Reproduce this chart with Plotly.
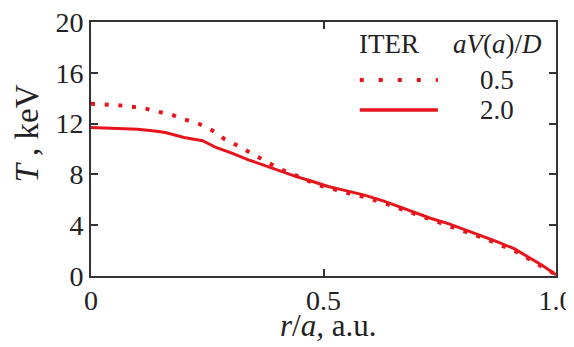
import plotly.graph_objects as go

# r/a values and temperatures (keV)
r_dot = [0, 0.026, 0.057, 0.087, 0.115, 0.144, 0.171, 0.2, 0.23, 0.259, 0.287, 0.316,
         0.346, 0.374, 0.403, 0.432, 0.46, 0.49, 0.55, 0.59, 0.63, 0.66, 0.7, 0.73, 0.77,
         0.8, 0.84, 0.87, 0.91, 0.94, 0.97, 1.0]
T_dot = [13.56, 13.54, 13.46, 13.33, 13.2, 12.94, 12.73, 12.34, 12.02, 11.5, 10.79, 10.25,
         9.66, 9.06, 8.48, 8.05, 7.6, 7.15, 6.55, 6.2, 5.75, 5.35, 4.82, 4.4, 3.95,
         3.55, 3.05, 2.6, 2.0, 1.38, 0.75, 0.1]

r_sol = [0, 0.05, 0.1, 0.137, 0.16, 0.2, 0.24, 0.27, 0.3, 0.34, 0.37, 0.4, 0.44, 0.48,
         0.51, 0.55, 0.59, 0.63, 0.66, 0.7, 0.73, 0.77, 0.8, 0.84, 0.87, 0.91, 0.94,
         0.97, 1.0]
T_sol = [11.7, 11.65, 11.55, 11.42, 11.3, 10.9, 10.65, 10.1, 9.72, 9.13, 8.74, 8.35,
         7.85, 7.4, 7.05, 6.7, 6.35, 5.9, 5.5, 4.97, 4.55, 4.1, 3.7, 3.2, 2.75, 2.15,
         1.5, 0.85, 0.1]

names = ["0.5", "2.0"]
legend_title_left = "ITER"
legend_title_right = "<i>aV</i>(<i>a</i>)/<i>D</i>"
x_ticks = [0, 0.5, 1.0]
x_tick_text = ["0", "0.5", "1.0"]
y_ticks = [0, 4, 8, 12, 16, 20]

RED = "#e8141c"
FONT = "Liberation Serif"
AX = "#333333"
TXT = "#222222"

fig = go.Figure()
fig.add_trace(go.Scatter(x=r_dot, y=T_dot, mode="lines", name=names[0],
                         line=dict(color=RED, width=4, dash="4px,9.7px")))
fig.add_trace(go.Scatter(x=r_sol, y=T_sol, mode="lines", name=names[1],
                         line=dict(color=RED, width=3)))

axis_common = dict(showgrid=False, zeroline=False, showline=True, linecolor=AX,
                   linewidth=2, mirror="ticks", ticks="inside", ticklen=7,
                   tickwidth=2, tickcolor=AX, automargin=False,
                   ticklabeloverflow="allow",
                   tickfont=dict(family=FONT, size=28, color=TXT))

fig.update_xaxes(range=[0, 1.0], tickvals=x_ticks, ticktext=x_tick_text,
                 ticklabelstandoff=-2, **axis_common)
fig.update_yaxes(range=[0, 20], tickvals=y_ticks, **axis_common)

# manual legend (header, sample lines, labels) in paper coordinates
LX0, LX1 = 0.578, 0.746
LY = [0.772, 0.654]
dashes = ["4px,15px", "solid"]
widths = [4, 3.5]
shapes = []
annotations = []
for i in range(2):
    shapes.append(dict(type="line", xref="paper", yref="paper", x0=LX0, x1=LX1,
                       y0=LY[i], y1=LY[i],
                       line=dict(color=RED, width=widths[i], dash=dashes[i])))
    annotations.append(dict(text=names[i], x=0.833, y=LY[i], xref="paper", yref="paper",
                            showarrow=False, xanchor="left", yanchor="middle",
                            font=dict(family=FONT, size=27, color=TXT)))
annotations += [
    dict(text=legend_title_left, x=0.572, y=0.915, xref="paper", yref="paper",
         showarrow=False, xanchor="left", yanchor="middle",
         font=dict(family=FONT, size=27, color=TXT)),
    dict(text=legend_title_right, x=0.975, y=0.915, xref="paper", yref="paper",
         showarrow=False, xanchor="right", yanchor="middle",
         font=dict(family=FONT, size=27, color=TXT)),
    dict(text="<i>T</i> , keV", x=-0.138, y=0.56, xref="paper", yref="paper",
         textangle=-90, showarrow=False, xanchor="center", yanchor="middle",
         font=dict(family=FONT, size=33, color=TXT)),
    dict(text="<i>r</i>/<i>a,</i> a.u.", x=0.51, y=-0.195, xref="paper", yref="paper",
         showarrow=False, xanchor="center", yanchor="middle",
         font=dict(family=FONT, size=31, color=TXT)),
]

# page body has an 8px margin: figure is 566x339 so that it fills the 574x347 window
fig.update_layout(
    width=566, height=339,
    margin=dict(l=83, r=18, t=14, b=71),
    paper_bgcolor="white", plot_bgcolor="white",
    font=dict(family=FONT, color=TXT),
    showlegend=False,
    shapes=shapes,
    annotations=annotations,
)

fig.write_html("out.html")
